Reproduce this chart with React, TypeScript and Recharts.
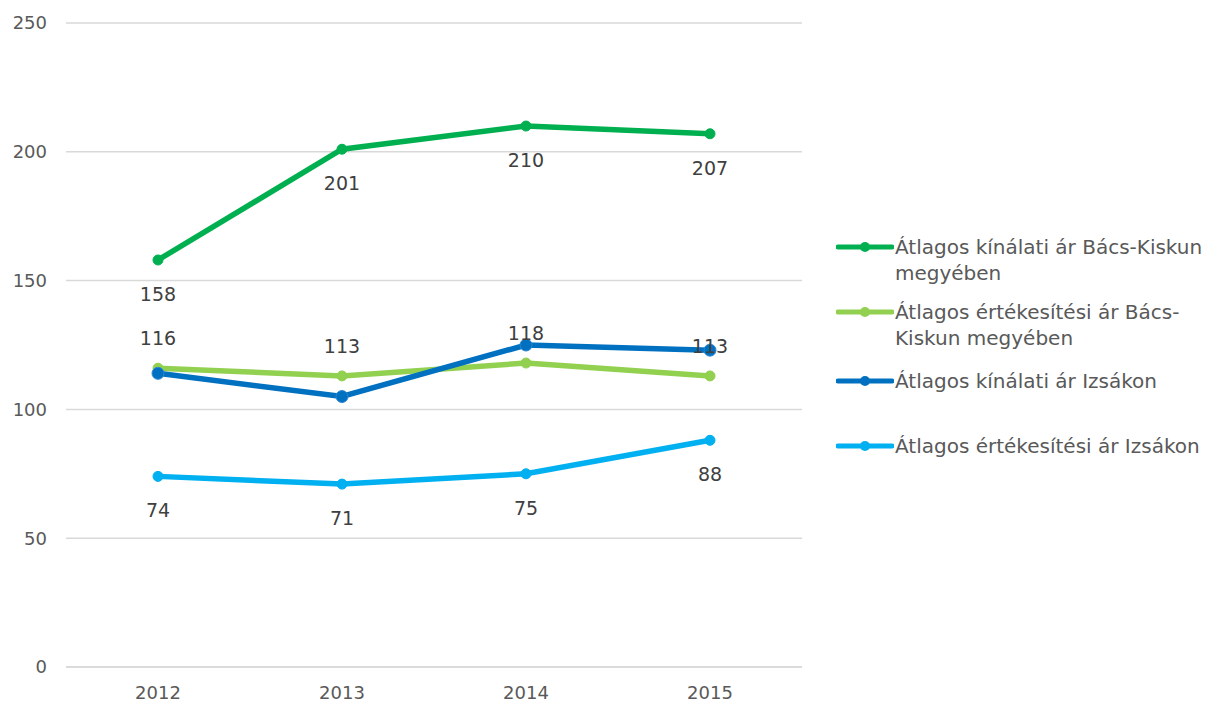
import { LineChart, Line, XAxis, YAxis, CartesianGrid, Legend, LabelList } from "recharts";

const years = ["2012", "2013", "2014", "2015"];
const kinalatiBacs = [158, 201, 210, 207];
const ertekesitesiBacs = [116, 113, 118, 113];
const kinalatiIzsak = [114, 105, 125, 123];
const ertekesitesiIzsak = [74, 71, 75, 88];
const yTicks = [0, 50, 100, 150, 200, 250];

const seriesNames = [
  "Átlagos kínálati ár Bács-Kiskun megyében",
  "Átlagos értékesítési ár Bács-Kiskun megyében",
  "Átlagos kínálati ár Izsákon",
  "Átlagos értékesítési ár Izsákon",
];

const data = years.map((year, i) => ({
  year,
  s1: kinalatiBacs[i],
  s2: ertekesitesiBacs[i],
  s3: kinalatiIzsak[i],
  s4: ertekesitesiIzsak[i],
}));

const FONT = "'DejaVu Sans', sans-serif";
const TEXT = "#595959";

const labelBelow = (props: any) => {
  const { x, y, value } = props;
  return (
    <text x={x} y={y + 34} textAnchor="middle" dominantBaseline="central" fontSize={19} fill="#404040" fontFamily={FONT}>
      {value}
    </text>
  );
};

const labelAbove = (props: any) => {
  const { x, y, value } = props;
  return (
    <text x={x} y={y - 30} textAnchor="middle" dominantBaseline="central" fontSize={19} fill="#404040" fontFamily={FONT}>
      {value}
    </text>
  );
};

const gaps = [13, 17, 39, 0];

function LegendContent(props: any) {
  const { payload } = props;
  return (
    <div style={{ fontFamily: FONT, fontSize: 20, color: TEXT, lineHeight: "26px" }}>
      {payload.map((p: any, i: number) => (
        <div key={p.value} style={{ display: "flex", alignItems: "flex-start", marginBottom: gaps[i] }}>
          <svg width={58} height={26} style={{ flex: "none" }}>
            <line x1={2} y1={13} x2={56} y2={13} stroke={p.color} strokeWidth={5} strokeLinecap="round" />
            <circle cx={29} cy={13} r={5} fill={p.color} />
          </svg>
          <span style={{ width: 311, marginLeft: 1 }}>{p.value}</span>
        </div>
      ))}
    </div>
  );
}

export default function App() {
  return (
    <div style={{ position: "absolute", left: 0, top: 0 }}>
      <LineChart width={1208} height={706} data={data} margin={{ top: 23, right: 34, bottom: 9, left: 0 }}>
        <CartesianGrid vertical={false} stroke="#D9D9D9" strokeWidth={1.5} />
        <XAxis
          dataKey="year"
          height={30}
          axisLine={{ stroke: "#D9D9D9", strokeWidth: 1.5 }}
          tickLine={false}
          tickSize={0}
          tickMargin={19}
          tick={{ fill: TEXT, fontSize: 18, fontFamily: FONT }}
          padding={{ left: 92, right: 92 }}
        />
        <YAxis
          width={66}
          domain={[0, 250]}
          ticks={yTicks}
          axisLine={false}
          tickLine={false}
          tickSize={0}
          tickMargin={19}
          tick={{ fill: TEXT, fontSize: 18, fontFamily: FONT }}
        />
        <Legend
          layout="vertical"
          align="right"
          verticalAlign="top"
          itemSorter="dataKey"
          content={<LegendContent />}
          wrapperStyle={{ left: 836, top: 234, width: 372 }}
        />
        <Line
          dataKey="s1"
          name={seriesNames[0]}
          stroke="#00B050"
          strokeWidth={5.5}
          dot={{ r: 5, fill: "#00B050", stroke: "#00B050", strokeWidth: 1 }}
          isAnimationActive={false}
        >
          <LabelList dataKey="s1" content={labelBelow} />
        </Line>
        <Line
          dataKey="s2"
          name={seriesNames[1]}
          stroke="#92D050"
          strokeWidth={5.5}
          dot={{ r: 5, fill: "#92D050", stroke: "#92D050", strokeWidth: 1 }}
          isAnimationActive={false}
        >
          <LabelList dataKey="s2" content={labelAbove} />
        </Line>
        <Line
          dataKey="s3"
          name={seriesNames[2]}
          stroke="#0070C0"
          strokeWidth={5.5}
          dot={{ r: 6, fill: "#0070C0", stroke: "#2F86D1", strokeWidth: 1 }}
          isAnimationActive={false}
        />
        <Line
          dataKey="s4"
          name={seriesNames[3]}
          stroke="#00B0F0"
          strokeWidth={5.5}
          dot={{ r: 5, fill: "#00B0F0", stroke: "#00B0F0", strokeWidth: 1 }}
          isAnimationActive={false}
        >
          <LabelList dataKey="s4" content={labelBelow} />
        </Line>
      </LineChart>
    </div>
  );
}
